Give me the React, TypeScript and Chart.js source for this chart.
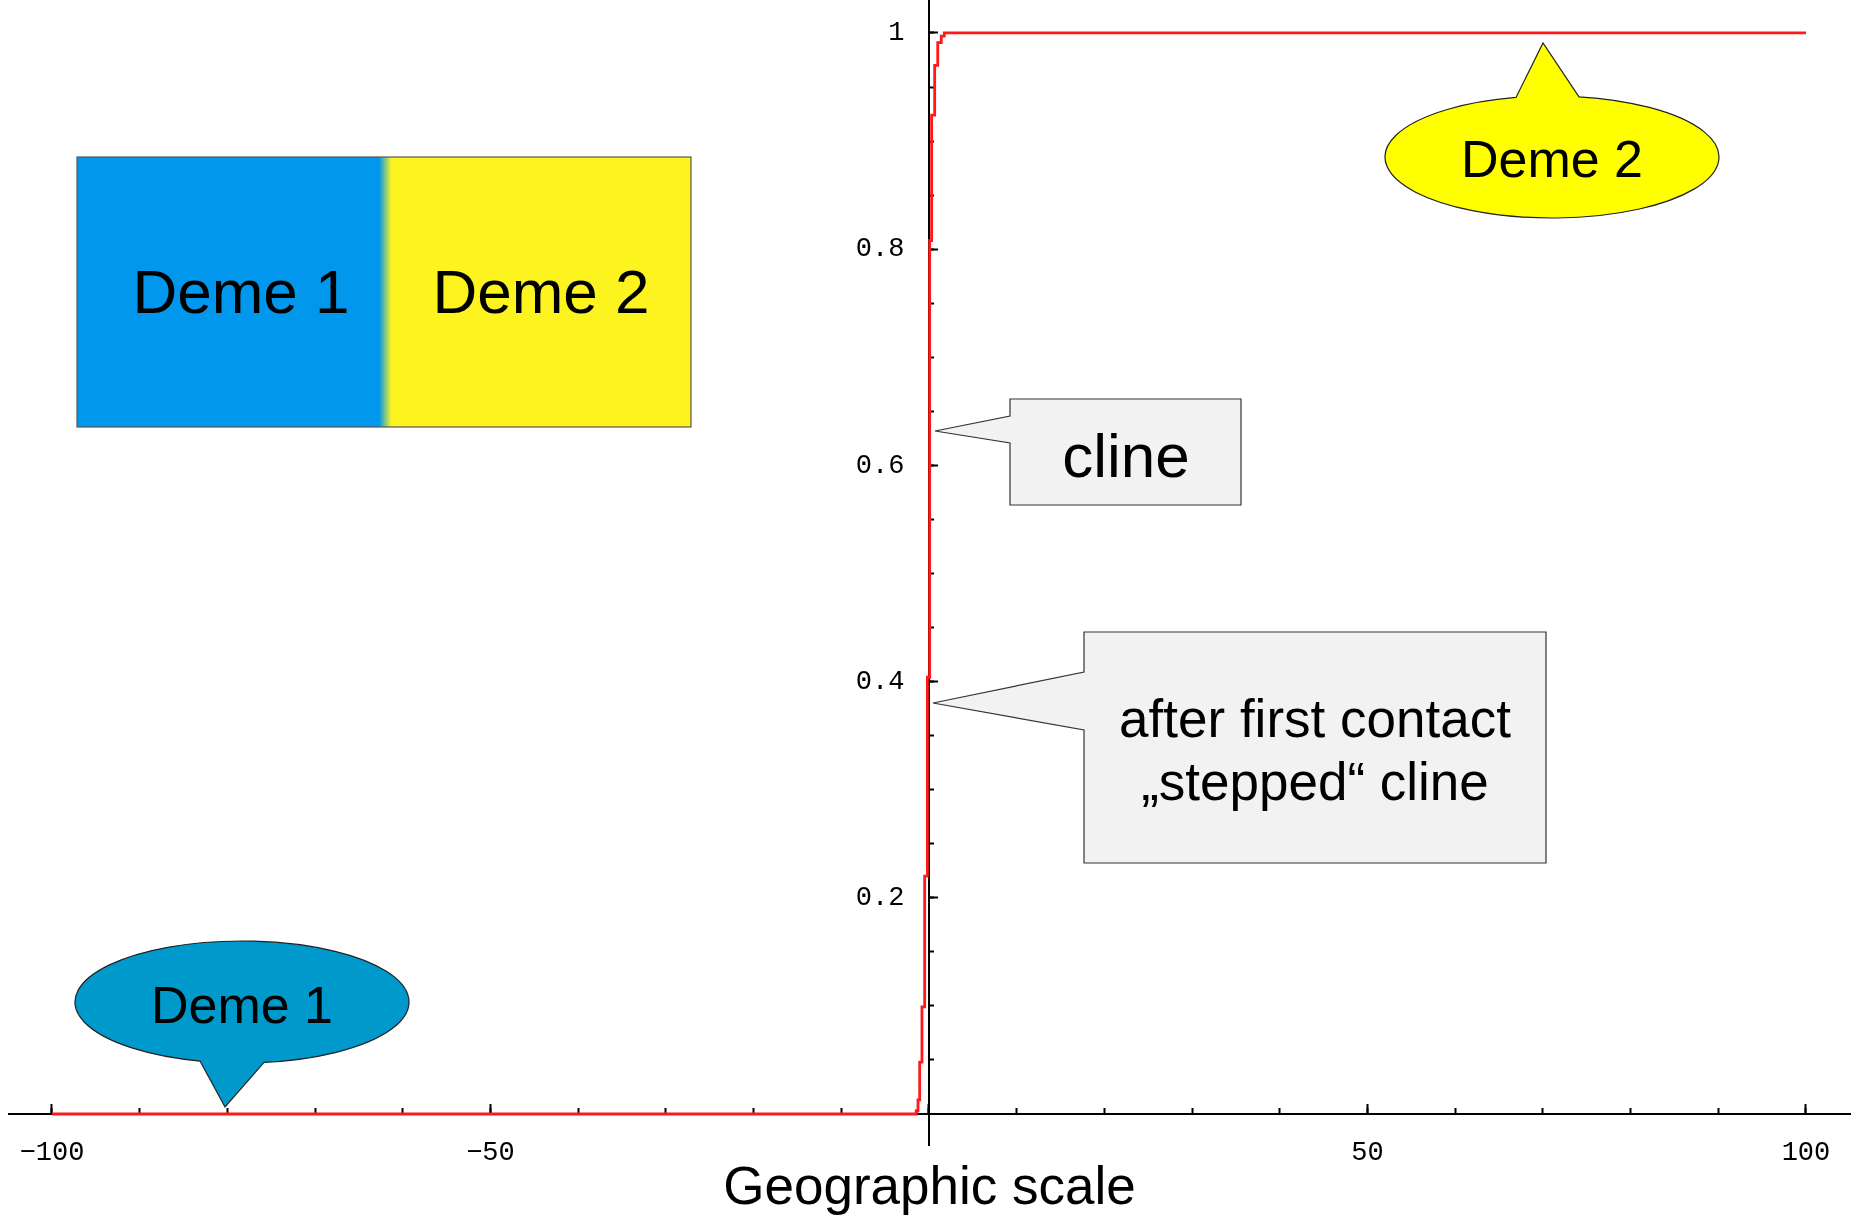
import React, { useEffect, useRef } from "react";
import { Chart, registerables } from "chart.js";

Chart.register(...registerables);

// ---------- data ----------
const clineX = [-100, -1.45, -1.25, -1.06, -0.8, -0.49, -0.18, 0.08, 0.3, 0.65, 1.0, 1.4, 1.75, 100];
const clineY = [0, 0.003, 0.013, 0.048, 0.099, 0.22, 0.404, 0.808, 0.924, 0.97, 0.991, 0.997, 1.0, 1.0];

const xMajorValues = [-100, -50, 0, 50, 100];
const xMajorLabels = ["\u2212100", "\u221250", "", "50", "100"];
const xMinorValues = [-100, -90, -80, -70, -60, -50, -40, -30, -20, -10, 0, 10, 20, 30, 40, 50, 60, 70, 80, 90, 100];
const yMajorValues = [0.2, 0.4, 0.6, 0.8, 1.0];
const yMajorLabels = ["0.2", "0.4", "0.6", "0.8", "1"];
const yMinorValues = [0.05, 0.1, 0.15, 0.2, 0.25, 0.3, 0.35, 0.4, 0.45, 0.5, 0.55, 0.6, 0.65, 0.7, 0.75, 0.8, 0.85, 0.9, 0.95, 1.0];
const xAxisTitle = "Geographic scale";

const X_MIN = -104.9;
const X_MAX = 105.02;
const Y_MIN = -0.0287;
const Y_MAX = 1.0305;
const Y_LABEL_X = -2.8; // x value where the y tick labels end (right-aligned)

const W = 1853;
const H = 1216;

const tickFont = { family: "'Liberation Mono', 'DejaVu Sans Mono', monospace", size: 27 };
const sans = "'Liberation Sans', Arial, sans-serif";

function ellY(cx: number, cy: number, rx: number, ry: number, x: number, side: number) {
  return cy + side * ry * Math.sqrt(1 - ((x - cx) / rx) ** 2);
}

export default function App() {
  const canvasRef = useRef<HTMLCanvasElement | null>(null);

  useEffect(() => {
    const canvas = canvasRef.current;
    if (!canvas) return;
    const zeroFit = (s: any) => {
      if (s.isHorizontal()) s.height = 0;
      else s.width = 0;
      s.paddingLeft = 0;
      s.paddingRight = 0;
      s.paddingTop = 0;
      s.paddingBottom = 0;
    };
    const chart = new Chart(canvas, {
      type: "line",
      data: {
        datasets: [
          {
            data: clineX.map((x, i) => ({ x, y: clineY[i] })),
            borderColor: "rgb(255,25,25)",
            borderWidth: 2.8,
            pointRadius: 0,
            stepped: true,
            fill: false,
            xAxisID: "x",
            yAxisID: "y",
          },
        ],
      },
      options: {
        responsive: false,
        animation: false,
        devicePixelRatio: 1,
        layout: { padding: { left: 9, right: 3, top: 0, bottom: 0 } },
        plugins: {
          legend: { display: false },
          tooltip: { enabled: false },
          title: {
            display: true,
            text: xAxisTitle,
            position: "bottom",
            color: "#000",
            font: { family: sans, size: 53, weight: "normal", lineHeight: 1 },
            padding: { top: 18, bottom: 0 },
          },
        },
        scales: {
          x: {
            type: "linear",
            axis: "x",
            position: { y: 0 },
            min: X_MIN,
            max: X_MAX,
            afterFit: zeroFit,
            afterBuildTicks: (s: any) => {
              s.ticks = xMajorValues.map((v) => ({ value: v }));
            },
            ticks: {
              callback: (_v: any, i: number) => xMajorLabels[i],
              font: tickFont,
              color: "#000",
              padding: 34,
              maxRotation: 0,
              autoSkip: false,
            },
            grid: { drawOnChartArea: false, drawTicks: true, tickLength: -11, tickWidth: 2, tickColor: "#000" },
            border: { display: true, color: "#000", width: 2 },
          },
          xMinor: {
            type: "linear",
            axis: "x",
            position: { y: 0 },
            min: X_MIN,
            max: X_MAX,
            afterFit: zeroFit,
            afterBuildTicks: (s: any) => {
              s.ticks = xMinorValues.map((v) => ({ value: v }));
            },
            ticks: { display: false, autoSkip: false },
            grid: { drawOnChartArea: false, drawTicks: true, tickLength: -6, tickWidth: 2, tickColor: "#000" },
            border: { display: false },
          },
          y: {
            type: "linear",
            axis: "y",
            position: { x: 0 },
            min: Y_MIN,
            max: Y_MAX,
            afterFit: zeroFit,
            afterBuildTicks: (s: any) => {
              s.ticks = yMajorValues.map((v) => ({ value: v }));
            },
            ticks: { display: false, autoSkip: false },
            grid: { drawOnChartArea: false, drawTicks: true, tickLength: -10, tickWidth: 2, tickColor: "#000" },
            border: { display: true, color: "#000", width: 2 },
          },
          yLabels: {
            type: "linear",
            axis: "y",
            position: { x: Y_LABEL_X },
            min: Y_MIN,
            max: Y_MAX,
            afterFit: zeroFit,
            afterBuildTicks: (s: any) => {
              s.ticks = yMajorValues.map((v) => ({ value: v }));
            },
            ticks: {
              callback: (_v: any, i: number) => yMajorLabels[i],
              font: tickFont,
              color: "#000",
              padding: 0,
              autoSkip: false,
            },
            grid: { display: false },
            border: { display: false },
          },
          yMinor: {
            type: "linear",
            axis: "y",
            position: { x: 0 },
            min: Y_MIN,
            max: Y_MAX,
            afterFit: zeroFit,
            afterBuildTicks: (s: any) => {
              s.ticks = yMinorValues.map((v) => ({ value: v }));
            },
            ticks: { display: false, autoSkip: false },
            grid: { drawOnChartArea: false, drawTicks: true, tickLength: -5, tickWidth: 2, tickColor: "#000" },
            border: { display: false },
          },
        },
      } as any,
    });
    return () => chart.destroy();
  }, []);

  // callout geometry (annotations)
  const d2 = { cx: 1552, cy: 157, rx: 167, ry: 61 };
  const d2b1 = [1516, ellY(d2.cx, d2.cy, d2.rx, d2.ry, 1516, -1)];
  const d2b2 = [1579, ellY(d2.cx, d2.cy, d2.rx, d2.ry, 1579, -1)];
  const d2Path = `M ${d2b1[0]} ${d2b1[1]} L 1543 43 L ${d2b2[0]} ${d2b2[1]} A ${d2.rx} ${d2.ry} 0 1 1 ${d2b1[0]} ${d2b1[1]} Z`;

  const d1 = { cx: 242, cy: 1002, rx: 167, ry: 61 };
  const d1b1 = [200, ellY(d1.cx, d1.cy, d1.rx, d1.ry, 200, 1)];
  const d1b2 = [264, ellY(d1.cx, d1.cy, d1.rx, d1.ry, 264, 1)];
  const d1Path = `M ${d1b1[0]} ${d1b1[1]} L 225 1107 L ${d1b2[0]} ${d1b2[1]} A ${d1.rx} ${d1.ry} 0 1 0 ${d1b1[0]} ${d1b1[1]} Z`;

  const clinePath = "M 1010 399 L 1241 399 L 1241 505 L 1010 505 L 1010 443 L 935 431 L 1010 416 Z";
  const stepPath = "M 1084 632 L 1546 632 L 1546 863 L 1084 863 L 1084 730 L 933 703 L 1084 672 Z";

  return (
    <div style={{ position: "absolute", left: 0, top: 0, width: W, height: H, background: "#fff", overflow: "hidden" }}>
      <canvas
        ref={canvasRef}
        width={W}
        height={H}
        style={{ position: "absolute", left: 0, top: 0, width: W, height: H, display: "block" }}
      />
      <svg
        width={W}
        height={H}
        style={{ position: "absolute", left: 0, top: 0, pointerEvents: "none" }}
        fontFamily={sans}
      >
        <defs>
          <linearGradient id="demeGrad" x1="77" y1="0" x2="691" y2="0" gradientUnits="userSpaceOnUse">
            <stop offset="0.492" stopColor="#0097EC" />
            <stop offset="0.512" stopColor="#FCF31F" />
          </linearGradient>
        </defs>
        <rect x={77} y={157} width={614} height={270} fill="url(#demeGrad)" stroke="#555" strokeWidth={1.2} />
        <text x={241} y={313} fontSize={62} textAnchor="middle" fill="#000">Deme 1</text>
        <text x={541} y={313} fontSize={62} textAnchor="middle" fill="#000">Deme 2</text>

        <path d={d2Path} fill="#FFFF00" stroke="#222" strokeWidth={1.2} />
        <text x={1552} y={177} fontSize={52} textAnchor="middle" fill="#000">Deme 2</text>

        <path d={d1Path} fill="#0099CC" stroke="#222" strokeWidth={1.2} />
        <text x={242} y={1023} fontSize={52} textAnchor="middle" fill="#000">Deme 1</text>

        <path d={clinePath} fill="#F2F2F2" stroke="#333" strokeWidth={1.2} />
        <text x={1126} y={477} fontSize={62} textAnchor="middle" fill="#000">cline</text>

        <path d={stepPath} fill="#F2F2F2" stroke="#333" strokeWidth={1.2} />
        <text x={1315} y={737} fontSize={53} textAnchor="middle" fill="#000">after first contact</text>
        <text x={1315} y={800} fontSize={53} textAnchor="middle" fill="#000">{"\u201Estepped\u201C cline"}</text>
      </svg>
    </div>
  );
}
